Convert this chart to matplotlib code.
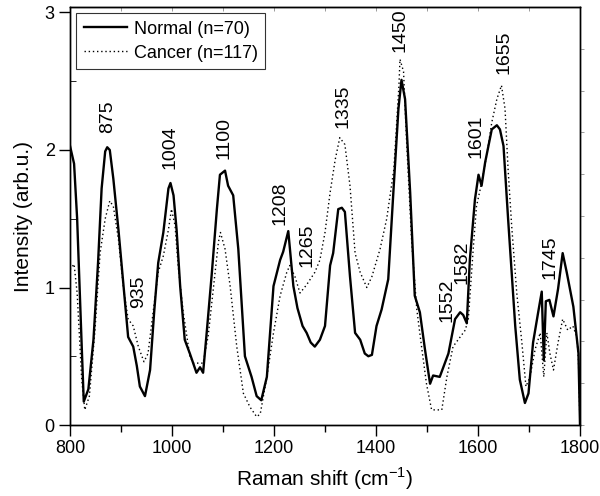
import numpy as np
import matplotlib
matplotlib.use('Agg')
import matplotlib.pyplot as plt

plt.rcParams['font.family'] = ['Liberation Sans', 'DejaVu Sans']
plt.rcParams['mathtext.fontset'] = 'custom'
plt.rcParams['mathtext.rm'] = 'Liberation Sans'

# ── spectra ───────────────────────────────────────────────────────
normal_x = [800, 808, 814, 823, 827, 836, 846, 855, 862, 869, 873, 878, 885, 895,
            905, 914, 924, 931, 937, 947, 957, 965, 973, 983, 993, 997, 1003, 1009,
            1016, 1025, 1035, 1048, 1055, 1061, 1068, 1078, 1088,
            1094, 1104, 1110, 1120, 1130, 1143, 1156, 1166, 1175, 1186, 1199, 1212,
            1218, 1228, 1238, 1246, 1256, 1264, 1272, 1280, 1290, 1300, 1310, 1316,
            1326, 1333, 1339, 1349, 1359, 1369, 1378, 1385, 1392, 1401, 1411, 1424,
            1434, 1444, 1450, 1457, 1467, 1476, 1486, 1496, 1506, 1512, 1525, 1535,
            1542, 1555, 1565, 1571, 1578, 1584, 1594, 1601, 1607, 1614, 1627, 1637,
            1643, 1650, 1659, 1673, 1682, 1692, 1699, 1708, 1718, 1725, 1729, 1733,
            1740, 1748, 1757, 1766, 1774, 1787, 1797, 1800]
normal_y = [2.03, 1.90, 1.50, 0.57, 0.17, 0.26, 0.62, 1.18, 1.72, 1.99, 2.02, 2.00, 1.79, 1.42,
            1.01, 0.64, 0.57, 0.43, 0.28, 0.21, 0.40, 0.82, 1.18, 1.40, 1.72, 1.76, 1.67, 1.42,
            1.01, 0.62, 0.52, 0.38, 0.42, 0.38, 0.67, 1.10, 1.57,
            1.82, 1.85, 1.74, 1.67, 1.28, 0.50, 0.35, 0.21, 0.18, 0.35, 1.01, 1.20,
            1.26, 1.41, 1.01, 0.85, 0.72, 0.67, 0.60, 0.57, 0.62, 0.72, 1.16, 1.25,
            1.57, 1.58, 1.55, 1.08, 0.67, 0.62, 0.52, 0.50, 0.51, 0.72, 0.84, 1.06,
            1.69, 2.30, 2.51, 2.37, 1.69, 0.94, 0.82, 0.55, 0.30, 0.36, 0.35, 0.45,
            0.52, 0.77, 0.82, 0.80, 0.74, 1.20, 1.64, 1.82, 1.74, 1.91, 2.15, 2.18,
            2.15, 2.03, 1.50, 0.72, 0.33, 0.16, 0.23, 0.60, 0.82, 0.97, 0.47, 0.90,
            0.91, 0.79, 0.99, 1.25, 1.11, 0.86, 0.52, 0.00]

cancer_x = [800, 808, 814, 823, 829, 838, 849, 859, 869, 878, 885, 895, 905, 914,
            924, 934, 945, 953, 963, 973, 983, 993, 999, 1006, 1012, 1022, 1035,
            1042, 1061, 1071, 1081, 1091,
            1095, 1104, 1114, 1127, 1140, 1153, 1166, 1173, 1186, 1199, 1212, 1225,
            1231, 1241, 1251, 1264, 1280, 1290, 1300, 1310, 1320, 1329, 1339, 1349,
            1359, 1369, 1382, 1392, 1408, 1421, 1435, 1445, 1447, 1454, 1460, 1470,
            1480, 1490, 1499, 1509, 1519, 1529, 1539, 1551, 1561, 1575, 1581, 1591,
            1597, 1607, 1617, 1627, 1637, 1646, 1653, 1659, 1666, 1676, 1686, 1694,
            1702, 1712, 1722, 1729, 1735, 1741, 1748, 1757, 1766, 1776, 1786, 1794,
            1797, 1800]
cancer_y = [1.13, 1.17, 0.96, 0.33, 0.11, 0.21, 0.69, 1.25, 1.50, 1.63, 1.59, 1.35, 0.99, 0.77,
            0.72, 0.57, 0.46, 0.52, 0.82, 1.11, 1.23, 1.42, 1.57, 1.45, 1.16, 0.82, 0.50,
            0.45, 0.45, 0.65, 0.99, 1.33,
            1.40, 1.28, 1.01, 0.57, 0.23, 0.13, 0.06, 0.08, 0.35, 0.67, 0.94, 1.11,
            1.16, 1.08, 0.96, 1.02, 1.11, 1.20, 1.40, 1.69, 1.93, 2.09, 2.04, 1.74,
            1.25, 1.11, 1.00, 1.08, 1.28, 1.50, 1.86, 2.47, 2.66, 2.57, 2.06, 1.33,
            0.84, 0.55, 0.30, 0.11, 0.11, 0.11, 0.35, 0.57, 0.62, 0.69, 0.77, 1.30,
            1.59, 1.76, 1.96, 2.20, 2.37, 2.47, 2.30, 1.86, 1.45, 0.96, 0.60, 0.28,
            0.35, 0.55, 0.67, 0.35, 0.67, 0.52, 0.40, 0.60, 0.77, 0.69, 0.72, 0.64,
            0.47, 0.00]

# peak labels: text, x, y
peak_labels = ['875', '935', '1004', '1100', '1208', '1265', '1335',
               '1450', '1552', '1582', '1601', '1655', '1745']
peak_x = [874, 934, 996, 1101, 1212, 1264, 1336, 1447, 1539, 1568, 1596, 1650, 1741]
peak_y = [2.24, 0.97, 2.02, 2.09, 1.61, 1.31, 2.32, 2.87, 0.91, 1.18, 2.10, 2.71, 1.22]

TICK_FS = 13
LABEL_FS = 15
PEAK_FS = 14

fig = plt.figure(figsize=(6.0, 4.96), dpi=100)
ax = fig.add_axes([70 / 600, 71 / 496, 510 / 600, 418 / 496])

ax.plot(normal_x, normal_y, color='black', lw=1.7, label='Normal (n=70)', zorder=3)
ax.plot(cancer_x, cancer_y, color='black', lw=1.0, linestyle=(0, (1, 2)),
        label='Cancer (n=117)', zorder=2)

for t, x, y in zip(peak_labels, peak_x, peak_y):
    ax.text(x, y, t, rotation=90, ha='center', va='center', fontsize=PEAK_FS)

ax.set_xlim(800, 1800)
ax.set_ylim(0, 3.04)
ax.set_xticks(np.arange(800, 1801, 200))
ax.set_xticks(np.arange(900, 1800, 200), minor=True)
ax.set_yticks([0, 1, 2, 3])
ax.set_yticks([0.5, 1.5, 2.5], minor=True)
ax.tick_params(axis='both', which='major', direction='out', length=8, width=1,
               labelsize=TICK_FS, pad=3, right=False, top=False)
ax.tick_params(axis='x', which='minor', direction='out', length=5, width=1, top=False)
ax.tick_params(axis='y', which='minor', direction='in', length=4, width=0.6, right=False)

# faint ticks along the top and right frame
top = ax.secondary_xaxis('top')
top.set_xticks(np.arange(900, 1800, 100))
top.tick_params(direction='in', length=3, width=0.5, color='0.45', labeltop=False)
right = ax.twinx()
right.set_ylim(ax.get_ylim())
right.set_yticks(np.arange(0, 3.0, 0.304))
right.tick_params(direction='out', length=3, width=0.5, color='0.45', labelright=False)

for a in (ax, right):
    for s in a.spines.values():
        s.set_linewidth(1.0)

ax.set_xlabel('Raman shift (cm$^{-1}$)', fontsize=LABEL_FS, labelpad=6)
ax.set_ylabel('Intensity (arb.u.)', fontsize=LABEL_FS, labelpad=8)

leg = ax.legend(loc='upper left', fontsize=TICK_FS, frameon=True, fancybox=False,
                edgecolor='black', handlelength=2.4, borderpad=0.4,
                labelspacing=0.4, handletextpad=0.4, borderaxespad=0.35)
leg.get_frame().set_linewidth(0.8)

fig.savefig('out.png', dpi=100)
